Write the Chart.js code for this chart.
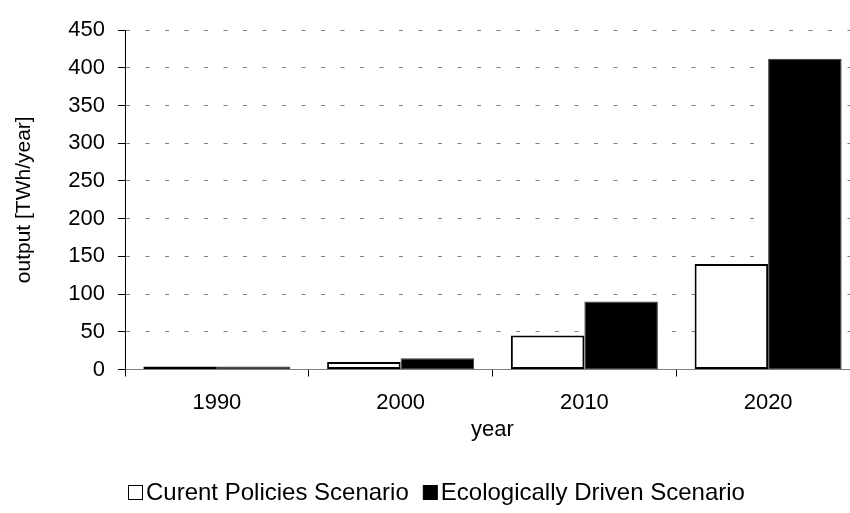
<!DOCTYPE html>
<html>
<head>
<meta charset="utf-8">
<script src="https://cdn.jsdelivr.net/npm/chart.js@4/dist/chart.umd.min.js"></script>
<style>
  html, body { margin: 0; padding: 0; background: #fff; overflow: hidden; }
  #wrap { width: 850px; height: 513px; overflow: hidden; position: relative; }
  canvas { display: block; }
</style>
</head>
<body>
<div id="wrap"><canvas id="c" width="860" height="513"></canvas></div>
<script>
// Electricity output by scenario [TWh/year]
const years = ['1990', '2000', '2010', '2020'];
const currentPolicies = [4, 10, 45, 140];
const ecologicallyDriven = [4, 15, 90, 412];
const seriesNames = ['Curent Policies Scenario', 'Ecologically Driven Scenario'];
const yMin = 0;
const yMax = 450;
const yStep = 50;

const FONT_FAMILY = '"Liberation Sans", Arial, Helvetica, sans-serif';

// Legend drawn under the plot: small square swatch followed closely by its text
const bottomLegend = {
  id: 'bottomLegend',
  afterDraw(chart, args, opts) {
    const ctx = chart.ctx;
    ctx.save();
    ctx.font = opts.fontSize + 'px ' + FONT_FAMILY;
    ctx.textBaseline = 'middle';
    ctx.textAlign = 'left';
    const box = opts.boxSize, gap = opts.boxGap, itemGap = opts.itemGap;
    const items = chart.data.datasets.map(ds => ({
      text: ds.label,
      fill: ds.backgroundColor
    }));
    let total = 0;
    items.forEach((it, i) => {
      it.w = box + gap + ctx.measureText(it.text).width;
      total += it.w + (i ? itemGap : 0);
    });
    let x = Math.round(opts.centerX - total / 2);
    const y = opts.centerY;
    items.forEach(it => {
      const bx = x + 0.5, by = Math.round(y - box / 2) + 0.5;
      ctx.fillStyle = it.fill;
      ctx.fillRect(bx, by, box, box);
      ctx.strokeStyle = '#000';
      ctx.lineWidth = 1;
      ctx.strokeRect(bx, by, box, box);
      ctx.fillStyle = '#000';
      ctx.fillText(it.text, x + box + gap, y + 1);
      x += it.w + itemGap;
    });
    ctx.restore();
  }
};

new Chart(document.getElementById('c'), {
  type: 'bar',
  data: {
    labels: years,
    datasets: [
      {
        label: seriesNames[0],
        data: currentPolicies,
        backgroundColor: '#ffffff',
        borderColor: '#000000',
        borderWidth: 2,
        borderSkipped: false,
        categoryPercentage: 0.8,
        barPercentage: 1.0
      },
      {
        label: seriesNames[1],
        data: ecologicallyDriven,
        backgroundColor: '#000000',
        borderColor: '#3a3a3a',
        borderWidth: 1,
        borderSkipped: false,
        categoryPercentage: 0.8,
        barPercentage: 1.0
      }
    ]
  },
  options: {
    responsive: false,
    animation: false,
    devicePixelRatio: 1,
    layout: { padding: { top: 30, right: 0, bottom: 50, left: 0 } },
    plugins: {
      legend: { display: false },
      tooltip: { enabled: false },
      bottomLegend: {
        fontSize: 24, boxSize: 14, boxGap: 4, itemGap: 14,
        centerX: 436, centerY: 492
      }
    },
    scales: {
      x: {
        offset: true,
        grid: {
          offset: true,
          drawOnChartArea: false,
          drawTicks: true,
          tickLength: 7,
          tickColor: '#000000',
          tickWidth: 1
        },
        border: { display: true, color: '#808080', width: 1 },
        ticks: {
          color: '#000000',
          padding: 13,
          maxRotation: 0,
          font: { family: FONT_FAMILY, size: 22 }
        },
        title: {
          display: true,
          text: 'year',
          color: '#000000',
          font: { family: FONT_FAMILY, size: 22 },
          padding: { top: 0, bottom: 20 }
        },
        afterFit(scale) { scale.height = 93.5; }
      },
      y: {
        min: yMin,
        max: yMax,
        ticks: {
          stepSize: yStep,
          color: '#000000',
          padding: 13,
          font: { family: FONT_FAMILY, size: 22 }
        },
        grid: {
          color: ctx => (ctx.tick && ctx.tick.value === 0) ? 'rgba(0,0,0,0)' : '#808080',
          lineWidth: 1,
          tickColor: '#000000',
          tickLength: 7,
          tickWidth: 1,
          tickBorderDash: []
        },
        border: { display: true, color: '#000000', width: 1, dash: [4, 15.5], dashOffset: 0 },
        title: {
          display: true,
          text: 'output [TWh/year]',
          color: '#000000',
          font: { family: FONT_FAMILY, size: 21 },
          padding: { top: 12, bottom: 0 }
        },
        afterFit(scale) { scale.width = 125; }
      }
    }
  },
  plugins: [bottomLegend]
});
</script>
</body>
</html>
